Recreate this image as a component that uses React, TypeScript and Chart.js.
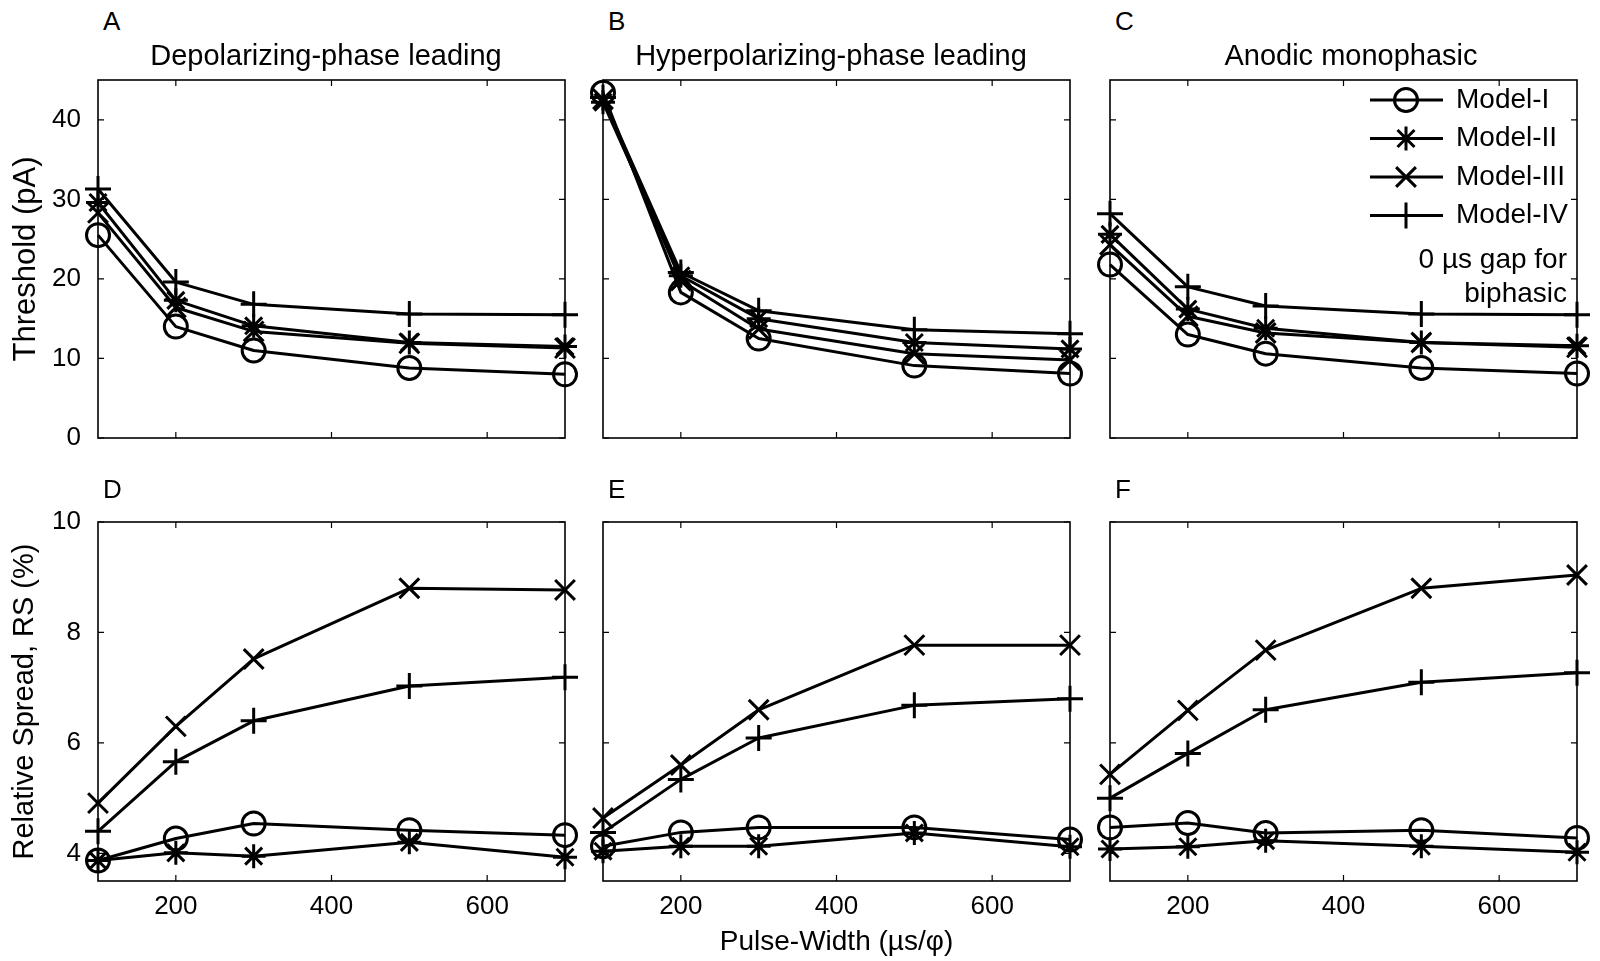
import React, { useEffect, useRef } from "react";
import { Chart, registerables } from "chart.js";
import { drawPoint } from "chart.js/helpers";

Chart.register(...registerables);

const FONT_FAMILY = "'Liberation Sans', Arial, Helvetica, sans-serif";

// ---------- data ----------
const PULSE_WIDTHS = [100, 200, 300, 500, 700];
const X_TICKS = [200, 400, 600];
const THRESHOLD_TICKS = [0, 10, 20, 30, 40];
const SPREAD_TICKS = [4, 6, 8, 10];
const MODEL_NAMES = ["Model-I", "Model-II", "Model-III", "Model-IV"];
const NOTE_LINES = ["0 \u00b5s gap for", "biphasic"];
const PANEL_LETTERS = ["A", "B", "C", "D", "E", "F"];
const COLUMN_TITLES = [
  "Depolarizing-phase leading",
  "Hyperpolarizing-phase leading",
  "Anodic monophasic",
];
const THRESHOLD_LABEL = "Threshold (pA)";
const SPREAD_LABEL = "Relative Spread, RS (%)";
const X_LABEL = "Pulse-Width (\u00b5s/\u03c6)";

// A: depolarizing-phase leading, threshold
const depThrI = [25.5, 14.0, 11.0, 8.8, 8.0];
const depThrII = [29.6, 17.3, 14.1, 12.0, 11.5];
const depThrIII = [28.3, 16.4, 13.4, 11.9, 11.3];
const depThrIV = [31.3, 19.6, 16.8, 15.6, 15.5];
// B: hyperpolarizing-phase leading, threshold
const hypThrI = [43.4, 18.3, 12.5, 9.1, 8.1];
const hypThrII = [42.2, 20.4, 15.0, 12.0, 11.2];
const hypThrIII = [42.6, 19.8, 13.7, 10.6, 9.8];
const hypThrIV = [42.8, 20.8, 16.0, 13.6, 13.1];
// C: anodic monophasic, threshold
const anoThrI = [21.8, 13.0, 10.6, 8.8, 8.1];
const anoThrII = [25.6, 16.2, 13.8, 12.0, 11.6];
const anoThrIII = [24.3, 15.3, 13.2, 12.0, 11.4];
const anoThrIV = [28.2, 19.0, 16.6, 15.6, 15.5];
// D: depolarizing-phase leading, relative spread
const depRsI = [3.87, 4.27, 4.54, 4.42, 4.33];
const depRsII = [3.87, 4.01, 3.95, 4.2, 3.93];
const depRsIII = [4.91, 6.3, 7.52, 8.8, 8.77];
const depRsIV = [4.4, 5.66, 6.4, 7.03, 7.19];
// E: hyperpolarizing-phase leading, relative spread
const hypRsI = [4.13, 4.38, 4.47, 4.47, 4.25];
const hypRsII = [4.04, 4.13, 4.13, 4.37, 4.12];
const hypRsIII = [4.64, 5.6, 6.6, 7.77, 7.77];
const hypRsIV = [4.38, 5.34, 6.09, 6.68, 6.8];
// F: anodic monophasic, relative spread
const anoRsI = [4.47, 4.55, 4.37, 4.42, 4.28];
const anoRsII = [4.08, 4.12, 4.23, 4.13, 4.02];
const anoRsIII = [5.43, 6.59, 7.68, 8.8, 9.04];
const anoRsIV = [5.0, 5.81, 6.6, 7.1, 7.27];

// ---------- layout / style ----------
const COL_LEFT = [98, 603, 1110];
const PLOT_W = 467;
const ROWS = [
  { top: 80, h: 358, min: 0, max: 45, ticks: THRESHOLD_TICKS, label: THRESHOLD_LABEL, labelSize: 31 },
  { top: 522, h: 359, min: 3.5, max: 10, ticks: SPREAD_TICKS, label: SPREAD_LABEL, labelSize: 29 },
];
const MARKERS = [
  { pointStyle: "circle", radius: 11.5 },
  { pointStyle: "star", radius: 12 },
  { pointStyle: "crossRot", radius: 14 },
  { pointStyle: "cross", radius: 13 },
];
const LINE_W = 3;

const PANELS = [
  { col: 0, row: 0, series: [depThrI, depThrII, depThrIII, depThrIV] },
  { col: 1, row: 0, series: [hypThrI, hypThrII, hypThrIII, hypThrIV] },
  { col: 2, row: 0, series: [anoThrI, anoThrII, anoThrIII, anoThrIV], legend: true },
  { col: 0, row: 1, series: [depRsI, depRsII, depRsIII, depRsIV] },
  { col: 1, row: 1, series: [hypRsI, hypRsII, hypRsIII, hypRsIV], xTitle: true },
  { col: 2, row: 1, series: [anoRsI, anoRsII, anoRsIII, anoRsIV] },
];

const boxPlugin = {
  id: "matlabBox",
  beforeDatasetsDraw(chart: any) {
    const { ctx, chartArea } = chart;
    const { left, top, right, bottom } = chartArea;
    const xs = chart.scales.x;
    const ys = chart.scales.y;
    ctx.save();
    ctx.strokeStyle = "#000";
    ctx.lineWidth = 1.6;
    ctx.strokeRect(left, top, right - left, bottom - top);
    ctx.beginPath();
    const L = 6;
    xs.ticks.forEach((t: any) => {
      const p = xs.getPixelForValue(t.value);
      ctx.moveTo(p, bottom);
      ctx.lineTo(p, bottom - L);
      ctx.moveTo(p, top);
      ctx.lineTo(p, top + L);
    });
    ys.ticks.forEach((t: any) => {
      const p = ys.getPixelForValue(t.value);
      ctx.moveTo(left, p);
      ctx.lineTo(left + L, p);
      ctx.moveTo(right, p);
      ctx.lineTo(right - L, p);
    });
    ctx.lineWidth = 1.2;
    ctx.stroke();
    ctx.restore();
  },
};

const legendPlugin = {
  id: "modelLegend",
  afterDatasetsDraw(chart: any) {
    const { ctx, chartArea } = chart;
    const { top, right } = chartArea;
    ctx.save();
    ctx.font = `28px ${FONT_FAMILY}`;
    ctx.strokeStyle = "#000";
    ctx.textBaseline = "middle";
    const rowY = [20, 58.5, 97, 135.5];
    MODEL_NAMES.forEach((name, i) => {
      const y = top + rowY[i];
      ctx.lineWidth = LINE_W;
      ctx.beginPath();
      ctx.moveTo(right - 207, y);
      ctx.lineTo(right - 134, y);
      ctx.stroke();
      ctx.fillStyle = "rgba(0,0,0,0)";
      drawPoint(
        ctx,
        { pointStyle: MARKERS[i].pointStyle as any, radius: MARKERS[i].radius, borderWidth: LINE_W, rotation: 0 } as any,
        right - 171,
        y
      );
      ctx.fillStyle = "#000";
      ctx.textAlign = "left";
      ctx.fillText(name, right - 121, y);
    });
    ctx.fillStyle = "#000";
    ctx.textAlign = "right";
    const noteY = [180, 214];
    NOTE_LINES.forEach((line, i) => ctx.fillText(line, right - 10, top + noteY[i]));
    ctx.restore();
  },
};

function Panel({ cfg }: { cfg: any }) {
  const ref = useRef<HTMLCanvasElement | null>(null);
  const row = ROWS[cfg.row];
  const yW = cfg.col === 0 ? COL_LEFT[0] : 24;
  const padRight = 24;
  const padTop = 40;
  const xH = cfg.row === 0 ? 40 : 961 - (row.top + row.h);
  const cW = yW + PLOT_W + padRight;
  const cH = padTop + row.h + xH;
  const cLeft = COL_LEFT[cfg.col] - yW;
  const cTop = row.top - padTop;

  useEffect(() => {
    const canvas = ref.current;
    if (!canvas) return;
    const datasets = cfg.series.map((vals: number[], i: number) => ({
      label: MODEL_NAMES[i],
      data: PULSE_WIDTHS.map((x, j) => ({ x, y: vals[j] })),
      borderColor: "#000",
      borderWidth: LINE_W,
      borderJoinStyle: "round",
      pointStyle: MARKERS[i].pointStyle,
      pointRadius: MARKERS[i].radius,
      pointBorderWidth: LINE_W,
      pointBorderColor: "#000",
      pointBackgroundColor: "rgba(0,0,0,0)",
      tension: 0,
      fill: false,
      clip: false,
    }));
    const tickFont = { family: FONT_FAMILY, size: 26 };
    const chart = new Chart(canvas, {
      type: "line",
      data: { datasets },
      plugins: cfg.legend ? [boxPlugin, legendPlugin] : [boxPlugin],
      options: {
        responsive: false,
        maintainAspectRatio: false,
        animation: false,
        devicePixelRatio: 1,
        layout: { padding: { top: padTop, right: padRight, left: 0, bottom: 0 } },
        plugins: {
          legend: { display: false },
          tooltip: { enabled: false },
          title: { display: false },
        },
        scales: {
          x: {
            type: "linear",
            min: 100,
            max: 700,
            afterBuildTicks: (s: any) => {
              s.ticks = X_TICKS.map((v) => ({ value: v }));
            },
            afterFit: (s: any) => {
              s.height = xH;
            },
            grid: { display: false, drawTicks: false },
            border: { display: false },
            ticks: {
              display: cfg.row === 1,
              font: tickFont,
              color: "#000",
              padding: 10,
              maxRotation: 0,
              autoSkip: false,
            },
            title: {
              display: !!cfg.xTitle,
              text: X_LABEL,
              font: { family: FONT_FAMILY, size: 28 },
              color: "#000",
              padding: { top: 0, bottom: 2 },
            },
          },
          y: {
            type: "linear",
            min: row.min,
            max: row.max,
            afterBuildTicks: (s: any) => {
              s.ticks = row.ticks.map((v: number) => ({ value: v }));
            },
            afterFit: (s: any) => {
              s.width = yW;
            },
            grid: { display: false, drawTicks: false },
            border: { display: false },
            ticks: {
              display: cfg.col === 0,
              font: tickFont,
              color: "#000",
              padding: 17,
              autoSkip: false,
            },
            title: {
              display: cfg.col === 0,
              text: row.label,
              font: { family: FONT_FAMILY, size: row.labelSize },
              color: "#000",
              padding: { top: 8, bottom: 0 },
            },
          },
        },
      } as any,
    });
    return () => chart.destroy();
  }, []);

  return (
    <canvas
      ref={ref}
      width={cW}
      height={cH}
      style={{ position: "absolute", left: cLeft, top: cTop, width: cW, height: cH }}
    />
  );
}

const TITLE_CX = [326, 831, 1351];
const LETTER_Y = [21, 489];

export default function App() {
  return (
    <div
      style={{
        position: "absolute",
        left: 0,
        top: 0,
        width: 1600,
        height: 961,
        background: "#fff",
        fontFamily: FONT_FAMILY,
        color: "#000",
        overflow: "hidden",
      }}
    >
      {PANELS.map((p, i) => (
        <Panel key={i} cfg={p} />
      ))}
      {PANELS.map((p, i) => (
        <div
          key={"l" + i}
          style={{
            position: "absolute",
            left: COL_LEFT[p.col] + 5,
            top: LETTER_Y[p.row] - 13,
            fontSize: 26,
            lineHeight: "26px",
            whiteSpace: "nowrap",
          }}
        >
          {PANEL_LETTERS[i]}
        </div>
      ))}
      {COLUMN_TITLES.map((t, i) => (
        <div
          key={"t" + i}
          style={{
            position: "absolute",
            left: TITLE_CX[i],
            top: 41,
            transform: "translateX(-50%)",
            fontSize: 29,
            lineHeight: "29px",
            whiteSpace: "nowrap",
          }}
        >
          {t}
        </div>
      ))}
    </div>
  );
}
